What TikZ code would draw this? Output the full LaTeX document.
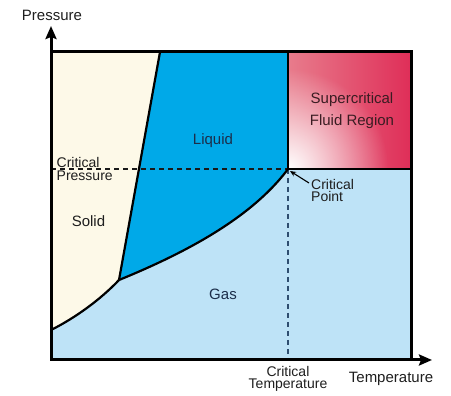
\documentclass[tikz,border=0pt]{standalone}
\usepackage{fontspec}
\setmainfont{Liberation Sans}
\usetikzlibrary{arrows.meta,fadings}
\tikzfading[name=whitespot, inner color=transparent!0, outer color=transparent!100]
\definecolor{solidc}{HTML}{FDF9E8}
\definecolor{liquidc}{HTML}{00A9E8}
\definecolor{gasc}{HTML}{BEE3F7}
\definecolor{scred}{HTML}{DF2E58}
\definecolor{scpink}{HTML}{E87C8C}
\definecolor{txt}{HTML}{1E1E1E}
\definecolor{sctxt}{HTML}{3A1C22}
\definecolor{bluetxt}{HTML}{1C2E4A}
\definecolor{dashblue}{HTML}{2E4E70}
\begin{document}
\begin{tikzpicture}[x=1pt,y=-1pt,
  lbl/.style={inner sep=0pt, text=txt, font=\fontsize{15}{16}\selectfont},
  reg/.style={inner sep=0pt, text=bluetxt, font=\fontsize{15}{16}\selectfont},
  ann/.style={inner sep=0pt, text=txt, font=\fontsize{14}{12.5}\selectfont},
  curve/.style={line width=2.2pt, black, line join=round},
  border/.style={line width=3pt, black},
  axis/.style={line width=3pt, black, -{Stealth[length=13pt,width=11pt,inset=2pt]}},
  dashline/.style={line width=1.2pt, dash pattern=on 5pt off 4pt}]
\useasboundingbox (0,0) rectangle (451,396);
% key points
\coordinate (O) at (51,360);
\coordinate (TL) at (51,52);
\coordinate (TR) at (411,52);
\coordinate (BR) at (411,360);
\coordinate (sl) at (160,52);
\coordinate (tp) at (119,280);
\coordinate (sb) at (51,330);
\coordinate (cp) at (288,169);
\coordinate (cpt) at (288,52);
\coordinate (cpr) at (411,169);
\coordinate (cpb) at (288,360);
\coordinate (cpl) at (51,169);
\coordinate (yend) at (51,26);
\coordinate (xend) at (432,360);
% regions
\fill[gasc] (O) rectangle (TR);
\fill[solidc] (TL) -- (sl) -- (tp) .. controls (100,300) and (75,318) .. (sb) -- cycle;
\fill[liquidc] (sl) -- (cpt) -- (cp) .. controls (250,220) and (180,255) .. (tp) -- cycle;
\shade[left color=scpink, right color=scred] (cpt) rectangle (cpr);
\begin{scope}
  \clip (cpt) rectangle (cpr);
  \fill[white, path fading=whitespot] (cp) circle (100);
\end{scope}
% dashed guides
\draw[dashline, black!90] (cpl) -- (cp);
\draw[dashline, dashblue] (cp) -- (cpb);
% phase boundaries
\draw[curve] (sl) -- (tp);
\draw[curve] (tp) .. controls (100,300) and (75,318) .. (sb);
\draw[curve] (tp) .. controls (180,255) and (250,220) .. (cp);
\draw[line width=2.6pt, line join=miter] (cpt) -- (cp) -- (cpr);
% frame and axes
\draw[border] (O) rectangle (TR);
\draw[axis] (TL) -- (yend);
\draw[axis] (BR) -- (xend);
% labels
\node[lbl, anchor=base] (plabel) at (52,20.5) {Pressure};
\node[lbl, anchor=base] (tlabel) at (391,383) {Temperature};
\node[reg, anchor=base] (liq) at (213,145) {Liquid};
\node[reg, anchor=base, text=txt] (sol) at (88.5,227) {Solid};
\node[reg, anchor=base] (gas) at (223,300) {Gas};
\node[reg, anchor=north, align=center, text=sctxt, font=\fontsize{15}{22.5}\selectfont] (sc) at (352,92.2) {Supercritical\\Fluid Region};
\node[ann, anchor=north west, align=left, font=\fontsize{14}{13.5}\selectfont] (cpres) at (56.5,157) {Critical\\Pressure};
\node[ann, anchor=north west, align=left] (cplab) at (311,179) {Critical\\Point};
\node[ann, anchor=north, align=center] (ctemp) at (288,366) {Critical\\Temperature};
% critical point pointer
\draw[line width=1.1pt, -{Stealth[length=6pt,width=5pt]}] ([shift={(-2pt,-4pt)}]cplab.north west) -- ([shift={(2pt,-2pt)}]cp);
\end{tikzpicture}
\end{document}
